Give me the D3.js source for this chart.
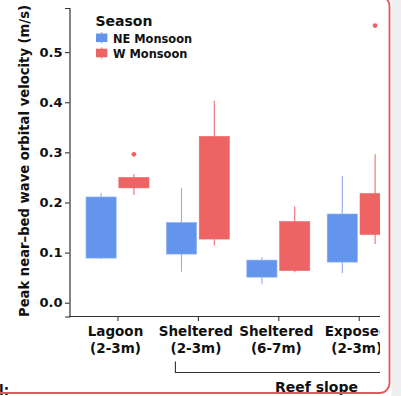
<!DOCTYPE html>
<html>
<head>
<meta charset="utf-8">
<script src="https://cdn.jsdelivr.net/npm/d3@7"></script>
<style>
html,body{margin:0;padding:0;background:#fff;}
svg{display:block;font-family:"DejaVu Sans","Liberation Sans",Arial,sans-serif;}
</style>
</head>
<body>
<svg id="chart" width="401" height="396"></svg>
<script>
// ---- data ----
const categories = ["Lagoon\n(2-3m)", "Sheltered\n(2-3m)", "Sheltered\n(6-7m)", "Exposed\n(2-3m)"];
const seasons = ["NE Monsoon", "W Monsoon"];
const seasonColors = ["#6495ED", "#EE6363"];
const whiskerColors = ["#8DB0F2", "#EE6E6E"];
// per season, per category
const neLow   = [0.087, 0.062, 0.037, 0.059];
const neQ1    = [0.089, 0.097, 0.051, 0.081];
const neQ3    = [0.211, 0.160, 0.085, 0.177];
const neHigh  = [0.219, 0.229, 0.091, 0.253];
const wLow    = [0.215, 0.114, 0.061, 0.117];
const wQ1     = [0.229, 0.127, 0.064, 0.136];
const wQ3     = [0.250, 0.332, 0.162, 0.218];
const wHigh   = [0.257, 0.403, 0.192, 0.296];
const neOutliers = [[], [], [], []];
const wOutliers  = [[0.296], [], [], [0.553]];
const yTicks = [0.0, 0.1, 0.2, 0.3, 0.4, 0.5];
const yLabel = "Peak near\u2013bed wave orbital velocity (m/s)";
const legendTitle = "Season";
const groupLabel = "Reef slope";

// build table
const rows = [];
categories.forEach((c, i) => {
  rows.push({cat: c, season: seasons[0], low: neLow[i], q1: neQ1[i], q3: neQ3[i], high: neHigh[i], out: neOutliers[i]});
  rows.push({cat: c, season: seasons[1], low: wLow[i], q1: wQ1[i], q3: wQ3[i], high: wHigh[i], out: wOutliers[i]});
});

const svg = d3.select("#chart");
const color = d3.scaleOrdinal().domain(seasons).range(seasonColors);
const wcolor = d3.scaleOrdinal().domain(seasons).range(whiskerColors);

const y = d3.scaleLinear().domain([-0.0275, 0.588]).range([316.5, 8]);
const x = d3.scalePoint().domain(categories).range([117.5, 358.7]);
const xs = d3.scaleBand().domain(seasons).range([-31.5, 31.5]).paddingInner(0.08);

// clip for cropped right side
svg.append("defs").append("clipPath").attr("id", "crop")
  .append("rect").attr("x", -10).attr("y", -10).attr("width", 390).attr("height", 420);

const g = svg.append("g").attr("clip-path", "url(#crop)");

// y label
g.append("text")
  .attr("transform", "translate(28.5,161) rotate(-90)")
  .attr("text-anchor", "middle")
  .style("font-weight", "bold").style("font-size", "13.2px").attr("fill", "#111")
  .text(yLabel);

// boxes
const box = g.append("g").selectAll("g").data(rows).join("g")
  .attr("transform", d => `translate(${x(d.cat) + xs(d.season)},0)`);
box.append("line")
  .attr("x1", xs.bandwidth() / 2).attr("x2", xs.bandwidth() / 2)
  .attr("y1", d => y(d.low)).attr("y2", d => y(d.high))
  .attr("stroke", d => wcolor(d.season)).attr("stroke-width", 1.1);
box.append("rect")
  .attr("x", 0).attr("width", xs.bandwidth())
  .attr("y", d => y(d.q3)).attr("height", d => y(d.q1) - y(d.q3))
  .attr("fill", d => color(d.season))
  .attr("stroke", d => wcolor(d.season)).attr("stroke-width", 0.6);
box.selectAll("circle").data(d => d.out.map(v => ({v, s: d.season}))).join("circle")
  .attr("cx", xs.bandwidth() / 2).attr("cy", d => y(d.v)).attr("r", 2.4)
  .attr("fill", d => color(d.s));

// axes
const yAxis = g.append("g").attr("transform", "translate(69.5,0)")
  .call(d3.axisLeft(y).tickValues(yTicks).tickFormat(d3.format(".1f")).tickSize(4.5).tickPadding(2.5));
const xAxis = g.append("g").attr("transform", "translate(0,316.5)")
  .call(d3.axisBottom(x).tickSize(4.5).tickFormat(""));
[yAxis, xAxis].forEach(a => {
  a.select(".domain").attr("stroke", "#333").attr("stroke-width", 1.2);
  a.selectAll(".tick line").attr("stroke", "#333").attr("stroke-width", 1.1);
});
yAxis.selectAll(".tick text").attr("fill", "#111")
  .style("font-size", "13px").style("font-weight", "bold").style("font-family", "DejaVu Sans, sans-serif");
xAxis.select(".domain").attr("d", "M69,0H420");

// x tick labels (two lines)
const xl = g.append("g").selectAll("text").data(categories).join("text")
  .attr("x", d => x(d)).attr("text-anchor", "middle")
  .style("font-weight", "bold").style("font-size", "13.5px").attr("fill", "#111");
xl.each(function(d) {
  const parts = d.split("\n");
  d3.select(this).selectAll("tspan").data(parts).join("tspan")
    .attr("x", x(d) - 2).attr("y", (p, i) => 336 + i * 17).text(p => p);
});

// reef slope bracket
const bx0 = x(categories[1]) - 22.5;
g.append("path")
  .attr("d", `M${bx0},361.5V372.5H420`)
  .attr("fill", "none").attr("stroke", "#333").attr("stroke-width", 1.1);
g.append("text").attr("x", 316.5).attr("y", 392).attr("text-anchor", "middle")
  .style("font-weight", "bold").style("font-size", "14px").attr("fill", "#111").text(groupLabel);

// cut-off text at bottom left
g.append("text").attr("x", -1).attr("y", 394.5).style("font-weight", "bold").style("font-size", "13.5px")
  .attr("fill", "#111").text("l:");

// legend
const lg = svg.append("g").attr("transform", "translate(96,0)");
lg.append("text").attr("x", -0.5).attr("y", 25.8).style("font-weight", "bold").style("font-size", "14px")
  .attr("fill", "#111").text(legendTitle);
const li = lg.selectAll("g.item").data(seasons).join("g").attr("class", "item")
  .attr("transform", (d, i) => `translate(0,${32 + i * 15.2})`);
li.append("line").attr("x1", 5.7).attr("x2", 5.7).attr("y1", 0).attr("y2", 11.5)
  .attr("stroke", d => wcolor(d)).attr("stroke-width", 1);
li.append("rect").attr("x", 0).attr("y", 1.5).attr("width", 11.4).attr("height", 8.6)
  .attr("fill", d => color(d));
li.append("text").attr("x", 17).attr("y", 10.5)
  .style("font-weight", "bold").style("font-size", "11.4px").attr("fill", "#111").text(d => d);

// right side: highlight frame and gray margin
svg.append("rect").attr("x", 391.5).attr("y", 0).attr("width", 10).attr("height", 396).attr("fill", "#efefef");
svg.append("rect").attr("x", -20).attr("y", -4).attr("width", 409.5).attr("height", 397)
  .attr("rx", 10).attr("fill", "none").attr("stroke", "#E25A5F").attr("stroke-width", 1.8);
</script>
</body>
</html>
